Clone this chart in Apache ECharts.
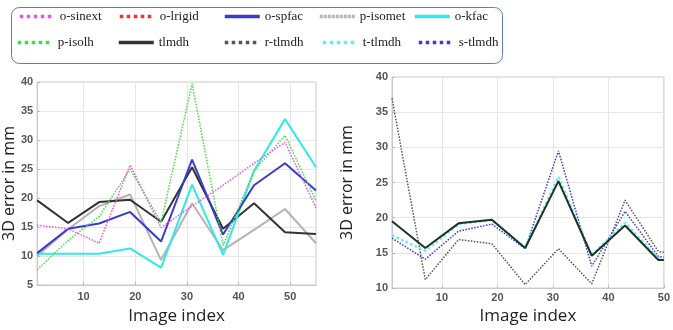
<!DOCTYPE html>
<html>
<head>
<meta charset="utf-8">
<script src="https://cdn.jsdelivr.net/npm/echarts@6/dist/echarts.min.js"></script>
<style>
html,body{margin:0;padding:0;background:#fff;}
#chart{width:673px;height:330px;}
</style>
</head>
<body>
<div id="chart"></div>
<script>
// ---- data ----
var xLeft = [1, 7, 13, 19, 25, 31, 37, 43, 49, 55];
var oSinext = [15.3, 14.7, 12.2, 25.7, 14.9, 18.6, 22.2, 26.0, 29.6, 18.3];
var oLrigid = [];
var oSpfac = [10.5, 14.7, 15.6, 17.6, 12.5, 26.6, 13.7, 22.2, 26.0, 21.3];
var pIsomet = [10.0, 14.6, 18.6, 20.6, 9.3, 19.1, 11.0, 14.5, 18.1, 12.2];
var oKfac = [10.4, 10.4, 10.4, 11.3, 8.0, 22.3, 10.2, 24.7, 33.6, 25.3];
var pIsolh = [7.6, 12.7, 16.8, 25.0, 15.8, 39.7, 11.8, 24.7, 30.8, 19.5];
var tlmdhLeft = [19.6, 15.7, 19.3, 19.7, 15.9, 25.3, 14.7, 19.1, 14.1, 13.8];

var xRight = [1, 7, 13, 19, 25, 31, 37, 43, 49, 50];
var tlmdhRight = [19.5, 15.7, 19.2, 19.7, 15.7, 25.2, 14.6, 18.9, 14.0, 14.0];
var rTlmdh = [37.0, 11.2, 16.9, 16.3, 10.5, 15.6, 10.6, 22.5, 15.2, 15.1];
var tTlmdh = [17.5, 15.3, 19.1, 19.7, 15.7, 25.8, 14.7, 19.3, 14.2, 14.2];
var sTlmdh = [17.1, 14.1, 18.1, 19.1, 15.6, 29.5, 13.1, 20.9, 14.5, 14.4];

var xTicks = [10, 20, 30, 40, 50];
var yTitle = '3D error in mm';
var xTitle = 'Image index';

function pairs(xs, ys) {
  return ys.map(function (v, i) { return [xs[i], v]; });
}

var chart = echarts.init(document.getElementById('chart'), null, {renderer: 'canvas'});

var tickLabel = {fontFamily: 'Liberation Sans', fontWeight: 'bold', fontSize: 11, color: '#555'};

function xAxisDef(gridIndex, max, gap, margin) {
  return {
    type: 'value', gridIndex: gridIndex, min: 1, max: max,
    axisLine: {show: true, lineStyle: {color: '#c8c8c8'}},
    axisTick: {show: true, inside: true, length: 3, customValues: xTicks, lineStyle: {color: '#bbb'}},
    axisLabel: Object.assign({customValues: xTicks, margin: margin}, tickLabel),
    splitLine: {show: true, lineStyle: {color: '#e6e6e6'}},
    name: xTitle, nameLocation: 'middle', nameGap: gap,
    nameTextStyle: {fontFamily: 'Open Sans', fontSize: 17, color: '#222'}
  };
}
function yAxisDef(gridIndex, min, gap) {
  return {
    type: 'value', gridIndex: gridIndex, min: min, max: 40, interval: 5,
    axisLine: {show: true, lineStyle: {color: '#c8c8c8'}},
    axisTick: {show: true, inside: true, length: 3, lineStyle: {color: '#bbb'}},
    axisLabel: Object.assign({margin: 4}, tickLabel),
    splitLine: {show: true, lineStyle: {color: '#e6e6e6'}},
    name: yTitle, nameLocation: 'middle', nameGap: gap,
    nameTextStyle: {fontFamily: 'Open Sans', fontSize: 16, color: '#222'}
  };
}

function line(name, xi, yi, xs, ys, color, width, type) {
  return {
    name: name, type: 'line', xAxisIndex: xi, yAxisIndex: yi,
    data: pairs(xs, ys), symbol: 'none', smooth: false,
    lineStyle: {color: color, width: width, type: type},
    itemStyle: {color: color}
  };
}

var legendItems = [
  ['o-sinext', 18, 10, 'dotted'], ['o-lrigid', 118, 10, 'dotted'], ['o-spfac', 223, 10, 'solid'], ['p-isomet', 318, 10, [3, 1]], ['o-kfac', 413, 10, 'solid'],
  ['p-isolh', 16, 36, 'dotted'], ['tlmdh', 117, 36, 'solid'], ['r-tlmdh', 223, 36, 'dotted'], ['t-tlmdh', 321, 36, 'dotted'], ['s-tlmdh', 417, 36, 'dotted']
];
var legends = legendItems.map(function (it) {
  return {
    data: [it[0]], left: it[1], top: it[2], padding: 0,
    itemWidth: 35, itemHeight: 14, itemGap: 0,
    lineStyle: {width: 3.5, type: it[3]},
    itemStyle: {opacity: 0},
    textStyle: {fontFamily: 'Liberation Serif', fontSize: 13, color: '#222', padding: [0, 0, 0, 0]},
    selectedMode: false
  };
});

var option = {
  animation: false,
  backgroundColor: '#fff',
  legend: legends,
  graphic: [{
    type: 'rect', left: 9, top: 5,
    shape: {width: 491, height: 56, r: 8},
    style: {fill: 'none', stroke: '#5b7db8', lineWidth: 1},
    z: -1
  }],
  grid: [
    {left: 37, top: 82, width: 279, height: 217, show: true, borderColor: '#c8c8c8', borderWidth: 1, backgroundColor: '#fff'},
    {left: 392, top: 77, width: 276, height: 217, show: true, borderColor: '#c8c8c8', borderWidth: 1, backgroundColor: '#fff'}
  ],
  xAxis: [xAxisDef(0, 55, 23, 6), xAxisDef(1, 50, 17, 4)],
  yAxis: [yAxisDef(0, 5, 20), yAxisDef(1, 10, 37)],
  series: [
    line('p-isomet', 0, 0, xLeft, pIsomet, '#b4b4b4', 2, 'solid'),
    line('o-lrigid', 0, 0, xLeft, oLrigid, '#ff2a2a', 2, 'dotted'),
    line('tlmdh', 0, 0, xLeft, tlmdhLeft, '#333333', 2, 'solid'),
    line('o-kfac', 0, 0, xLeft, oKfac, '#33e8e8', 2, 'solid'),
    line('o-spfac', 0, 0, xLeft, oSpfac, '#3a3ad0', 2, 'solid'),
    line('p-isolh', 0, 0, xLeft, pIsolh, '#44dd44', 1.5, 'dotted'),
    line('o-sinext', 0, 0, xLeft, oSinext, '#f050f0', 1.5, 'dotted'),
    line('r-tlmdh', 1, 1, xRight, rTlmdh, '#555555', 1.5, 'dotted'),
    line('s-tlmdh', 1, 1, xRight, sTlmdh, '#3a3ae0', 1.5, 'dotted'),
    line('t-tlmdh', 1, 1, xRight, tTlmdh, '#66eeee', 2.5, 'dotted'),
    line('tlmdh', 1, 1, xRight, tlmdhRight, '#1e3326', 2, 'solid')
  ]
};
chart.setOption(option);
</script>
</body>
</html>
